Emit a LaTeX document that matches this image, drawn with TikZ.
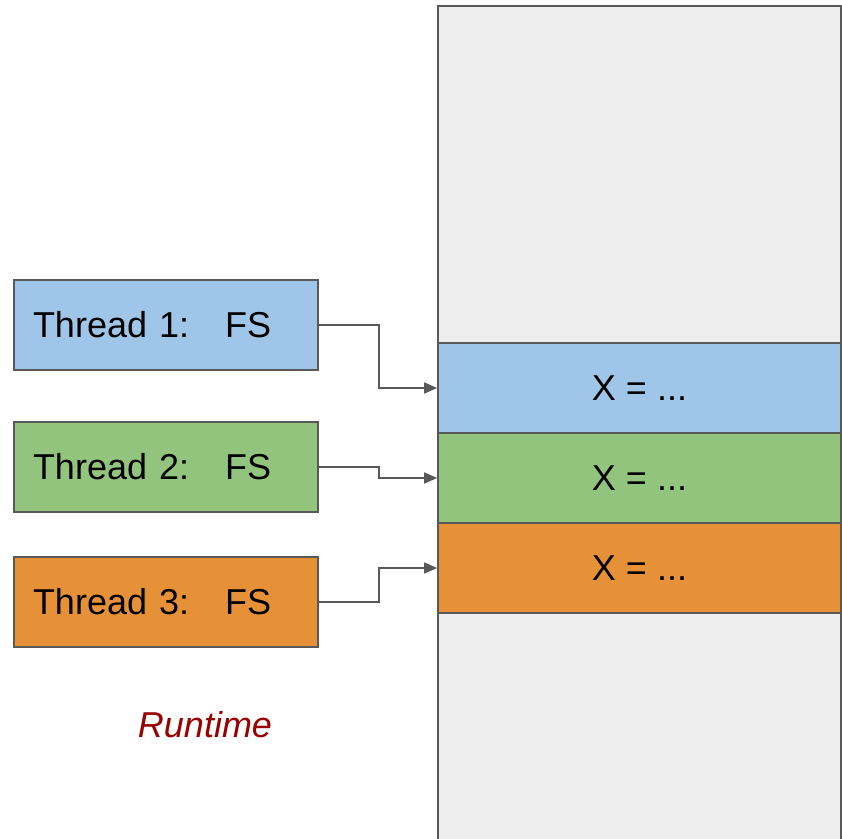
\documentclass[tikz,border=0pt]{standalone}
\usepackage{fontspec}
\setmainfont{Liberation Sans}
\usetikzlibrary{arrows.meta}
\definecolor{threadblue}{HTML}{9FC5E8}
\definecolor{threadgreen}{HTML}{93C47D}
\definecolor{threadorange}{HTML}{E69138}
\definecolor{memgray}{HTML}{EEEEEE}
\definecolor{edgegray}{HTML}{595959}
\definecolor{darkred}{HTML}{990000}
\tikzset{
  thread/.style={draw=edgegray, line width=1.6pt, minimum width=304, minimum height=90,
    text width=266, inner xsep=19, align=left, font=\fontsize{36}{40}\selectfont},
  slot/.style={draw=edgegray, line width=1.6pt, minimum width=403, minimum height=90,
    font=\fontsize{36}{40}\selectfont},
  conn/.style={draw=edgegray, line width=1.5pt, -{Triangle[length=13pt,width=11pt]}}
}
\begin{document}
\begin{tikzpicture}[x=1pt,y=-1pt]
  \useasboundingbox (0,0) rectangle (842,838);

  % Memory column (open at the bottom)
  \fill[memgray] (438,6) rectangle (841,845);
  \draw[edgegray, line width=1.6pt] (438,845) -- (438,6) -- (841,6) -- (841,845);

  % Slots inside the memory
  \node[slot, fill=threadblue] (x1) at (639.5,388) {X = ...};
  \node[slot, fill=threadgreen] (x2) at (639.5,478) {X = ...};
  \node[slot, fill=threadorange] (x3) at (639.5,568) {X = ...};

  % Threads
  \node[thread, fill=threadblue] (t1) at (166,325) {Thread 1:\ \ \ FS};
  \node[thread, fill=threadgreen] (t2) at (166,467) {Thread 2:\ \ \ FS};
  \node[thread, fill=threadorange] (t3) at (166,602) {Thread 3:\ \ \ FS};

  % Connectors
  \draw[conn] (t1.east) -- ++(60,0) |- (x1.west);
  \draw[conn] (t2.east) -- ++(60,0) |- (x2.west);
  \draw[conn] (t3.east) -- ++(60,0) |- (x3.west);

  % Label
  \node[font=\fontsize{36}{40}\selectfont\itshape, text=darkred] (rt) at (205,725) {Runtime};
\end{tikzpicture}
\end{document}
